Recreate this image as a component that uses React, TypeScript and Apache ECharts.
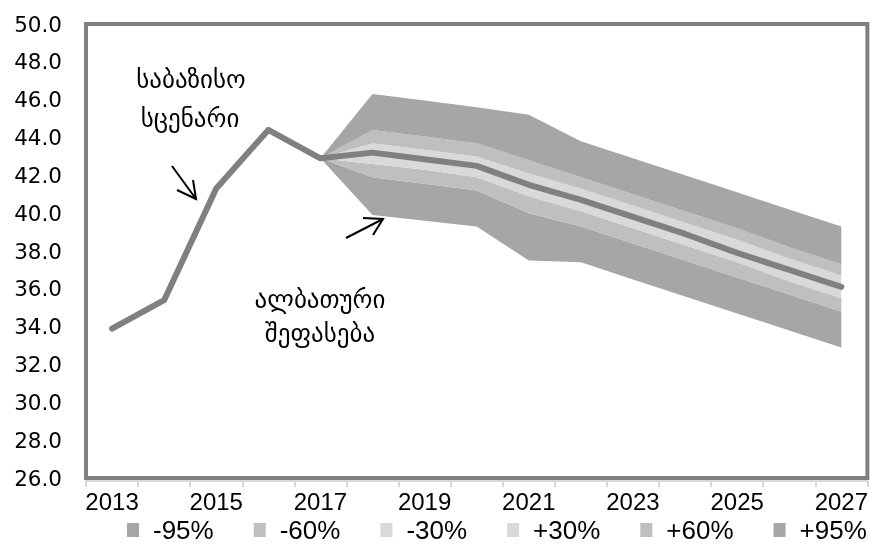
import React, { useEffect, useRef } from "react";
import * as echarts from "echarts";

const years = ["2013", "2014", "2015", "2016", "2017", "2018", "2019", "2020", "2021", "2022", "2023", "2024", "2025", "2026", "2027"];
const baseline = [33.9, 35.4, 41.3, 44.4, 42.9, 43.2, 42.85, 42.5, 41.5, 40.7, 39.8, 38.9, 37.9, 37.0, 36.1];
const lower95 = [null, null, null, null, 42.9, 39.9, 39.6, 39.3, 37.5, 37.4, 36.5, 35.6, 34.7, 33.8, 32.9];
const lower60 = [null, null, null, null, 42.9, 41.9, 41.55, 41.2, 40.0, 39.3, 38.4, 37.5, 36.6, 35.7, 34.8];
const lower30 = [null, null, null, null, 42.9, 42.6, 42.3, 41.9, 40.9, 40.1, 39.2, 38.3, 37.4, 36.4, 35.5];
const upper30 = [null, null, null, null, 42.9, 43.7, 43.35, 43.0, 42.1, 41.3, 40.4, 39.5, 38.6, 37.6, 36.7];
const upper60 = [null, null, null, null, 42.9, 44.4, 44.05, 43.7, 42.8, 41.9, 41.0, 40.1, 39.2, 38.2, 37.3];
const upper95 = [null, null, null, null, 42.9, 46.3, 45.95, 45.6, 45.2, 43.8, 42.9, 42.0, 41.1, 40.2, 39.3];
const bandNames = ["-95%", "-60%", "-30%", "+30%", "+60%", "+95%"];
const bandColors = ["#a6a6a6", "#bfbfbf", "#d9d9d9", "#d9d9d9", "#bfbfbf", "#a6a6a6"];
const baseLabel = ["საბაზისო", "სცენარი"];
const fanLabel = ["ალბათური", "შეფასება"];

function diff(a: (number | null)[], b: (number | null)[]) {
  return a.map((v, i) => (v == null || b[i] == null ? "-" : +((v as number) - (b[i] as number)).toFixed(3)));
}

export default function App() {
  const ref = useRef<HTMLDivElement>(null);
  useEffect(() => {
    if (!ref.current) return;
    const chart = echarts.init(ref.current, null, { renderer: "svg" });
    const bounds = [lower95, lower60, lower30, baseline.map((v, i) => (i < 4 ? null : v)), upper30, upper60, upper95];
    const bandSeries = bandNames.map((name, k) => ({
      name,
      type: "line",
      stack: "fan",
      data: diff(bounds[k + 1] as any, bounds[k] as any),
      symbol: "none",
      lineStyle: { width: 0, opacity: 0 },
      areaStyle: { color: bandColors[k], opacity: 1 },
      itemStyle: { color: bandColors[k] },
      z: 2,
    }));
    const geoFont = "'DejaVu Sans', sans-serif";
    const geoSize = 25;
    chart.setOption({
      animation: false,
      grid: {
        left: 86,
        right: 3,
        top: 24,
        bottom: 76,
        show: true,
        borderColor: "#808080",
        borderWidth: 4,
        backgroundColor: "#ffffff",
      },
      legend: {
        data: bandNames,
        left: 122,
        top: 512,
        width: 760,
        icon: "rect",
        itemWidth: 12,
        itemHeight: 14,
        itemGap: 40,
        selectedMode: false,
        textStyle: {
          fontFamily: "'Liberation Sans', Arial, sans-serif",
          fontSize: 26,
          color: "#000",
          padding: [0, 0, 0, 9],
        },
      },
      xAxis: {
        type: "category",
        data: years,
        boundaryGap: true,
        offset: 3,
        axisLine: { show: true, lineStyle: { color: "#d9d9d9", width: 2 } },
        axisTick: { show: true, interval: 0, length: 6, lineStyle: { color: "#d9d9d9", width: 2 } },
        axisLabel: {
          interval: 1,
          margin: 8,
          fontFamily: "'Liberation Sans', Arial, sans-serif",
          fontSize: 24,
          color: "#000",
        },
        splitLine: { show: false },
      },
      yAxis: {
        type: "value",
        min: 26,
        max: 50,
        interval: 2,
        axisLine: { show: false },
        axisTick: { show: false },
        splitLine: { show: false },
        axisLabel: {
          margin: 24,
          fontFamily: "'DejaVu Sans', sans-serif",
          fontSize: 21.5,
          color: "#000",
          formatter: (v: number) => v.toFixed(1),
        },
      },
      series: [
        {
          name: "base",
          type: "line",
          stack: "fan",
          data: lower95.map((v) => (v == null ? "-" : v)),
          symbol: "none",
          lineStyle: { width: 0, opacity: 0 },
          z: 2,
        },
        ...bandSeries,
        {
          name: "baseline",
          type: "line",
          data: baseline,
          symbol: "none",
          lineStyle: { color: "#808080", width: 6, cap: "round", join: "round" },
          z: 5,
        },
      ],
      graphic: [
        { type: "text", x: 191, y: 79, style: { text: baseLabel[0], font: `${geoSize}px ${geoFont}`, fill: "#000", align: "center", verticalAlign: "middle" } },
        { type: "text", x: 190, y: 118, style: { text: baseLabel[1], font: `${geoSize}px ${geoFont}`, fill: "#000", align: "center", verticalAlign: "middle" } },
        { type: "text", x: 320, y: 299, style: { text: fanLabel[0], font: `${geoSize}px ${geoFont}`, fill: "#000", align: "center", verticalAlign: "middle" } },
        { type: "text", x: 320, y: 333, style: { text: fanLabel[1], font: `${geoSize}px ${geoFont}`, fill: "#000", align: "center", verticalAlign: "middle" } },
        { type: "line", shape: { x1: 172, y1: 166, x2: 196, y2: 199 }, style: { stroke: "#000", lineWidth: 2 } },
        { type: "polyline", shape: { points: [[177, 190], [196, 199], [193, 180]] }, style: { stroke: "#000", lineWidth: 2, fill: null } },
        { type: "line", shape: { x1: 346, y1: 238, x2: 383, y2: 219 }, style: { stroke: "#000", lineWidth: 2 } },
        { type: "polyline", shape: { points: [[363, 218], [383, 219], [373, 235]] }, style: { stroke: "#000", lineWidth: 2, fill: null } },
      ],
    });
    return () => chart.dispose();
  }, []);
  return <div ref={ref} style={{ position: "fixed", left: 0, top: 0, width: 871, height: 554 }} />;
}
